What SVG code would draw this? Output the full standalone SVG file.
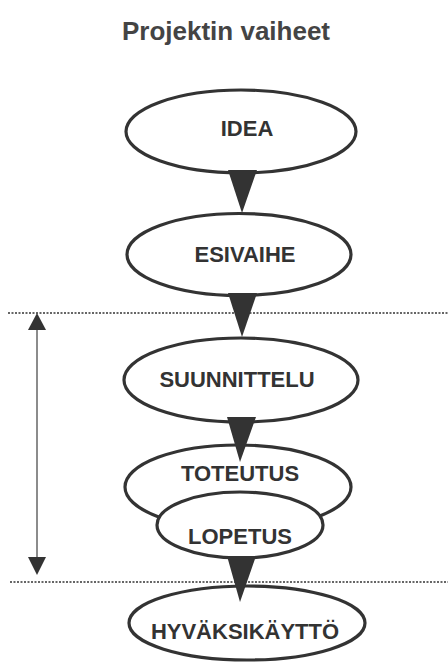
<svg xmlns="http://www.w3.org/2000/svg" width="448" height="664" viewBox="0 0 448 664">
<style>
.bg{fill:#ffffff}
.title{font-family:"Liberation Sans",Arial,sans-serif;font-weight:bold;font-size:26px;fill:#444;text-anchor:middle}
.lbl{font-family:"Liberation Sans",Arial,sans-serif;font-weight:bold;font-size:22px;fill:#333;text-anchor:middle}
.node{fill:#fff;stroke:#333;stroke-width:3.2}
.tri{fill:#333}
.dot{stroke:#666;stroke-width:1.8;stroke-dasharray:2 1.5;fill:none}
.span{stroke:#666;stroke-width:1.5;fill:none}
.head{fill:#333}
</style>
<rect class="bg" x="0" y="0" width="448" height="664"/>
<text class="title" x="226" y="40">Projektin vaiheet</text>
<g id="guides">
<line class="dot" x1="8" y1="313" x2="448" y2="313"/>
<line class="dot" x1="10" y1="582" x2="448" y2="582"/>
<line class="span" x1="37" y1="328" x2="37" y2="560"/>
<polygon class="head" points="37,313 28,330 46,330"/>
<polygon class="head" points="37,575 28,557 46,557"/>
</g>
<g id="idea">
<ellipse class="node" cx="241" cy="131.5" rx="115" ry="41.5"/>
<text class="lbl" x="247" y="136">IDEA</text>
</g>
<g id="esivaihe">
<ellipse class="node" cx="239" cy="254.5" rx="112" ry="41"/>
<text class="lbl" x="245" y="262">ESIVAIHE</text>
</g>
<g id="suunnittelu">
<ellipse class="node" cx="241" cy="380" rx="117" ry="42"/>
<text class="lbl" x="237" y="387">SUUNNITTELU</text>
</g>
<g id="toteutus">
<ellipse class="node" cx="238" cy="487" rx="113" ry="42"/>
<text class="lbl" x="240" y="481">TOTEUTUS</text>
</g>
<g id="lopetus">
<ellipse class="node" cx="240" cy="525" rx="83" ry="33"/>
<text class="lbl" x="240" y="544">LOPETUS</text>
</g>
<g id="hyvaksikaytto">
<ellipse class="node" cx="247" cy="623" rx="118" ry="37"/>
<text class="lbl" x="245" y="639">HYVÄKSIKÄYTTÖ</text>
</g>
<g id="connectors">
<polygon class="tri" points="228,170 257,170 242,213"/>
<polygon class="tri" points="228,293 257,293 242,337"/>
<polygon class="tri" points="227,417 256,417 240,462"/>
<polygon class="tri" points="227,556 256,556 240,602"/>
</g>
</svg>
